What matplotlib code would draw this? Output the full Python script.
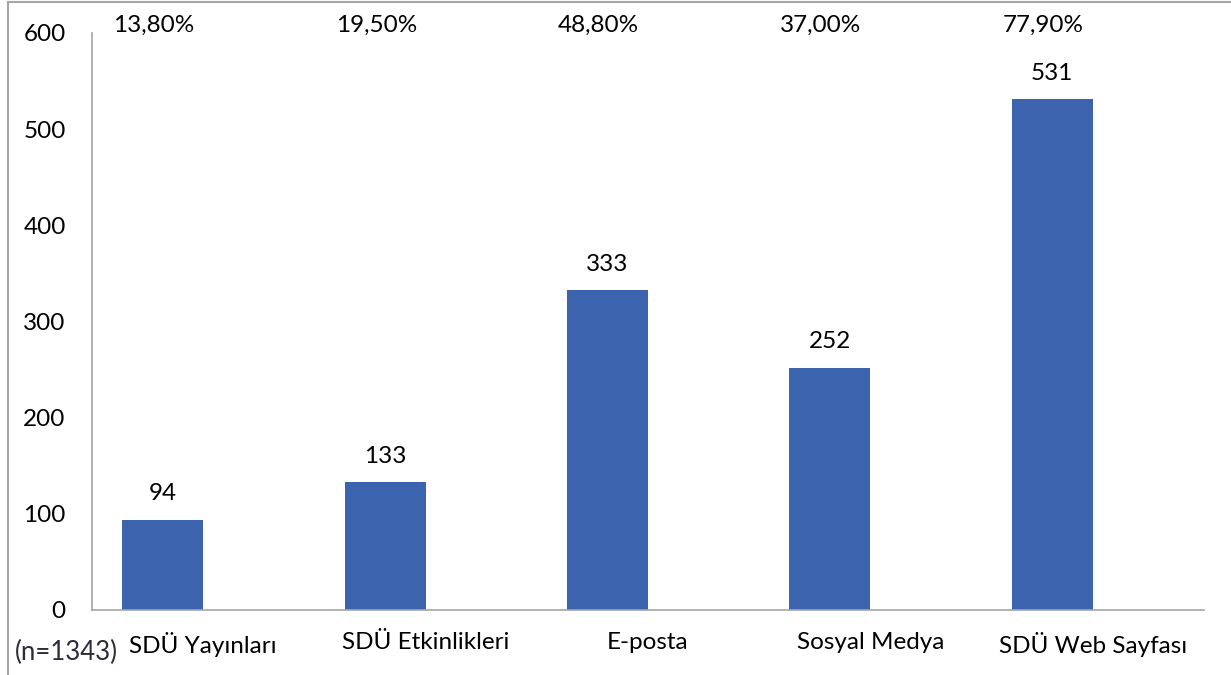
import matplotlib
matplotlib.use("Agg")
import matplotlib.pyplot as plt
import matplotlib.transforms as mtransforms
from matplotlib.lines import Line2D
import numpy as np

# ============================================================
# Data
# ============================================================
categories = ["SDÜ Yayınları", "SDÜ Etkinlikleri", "E-posta", "Sosyal Medya", "SDÜ Web Sayfası"]
counts = [94, 133, 333, 252, 531]
percents = ["13,80%", "19,50%", "48,80%", "37,00%", "77,90%"]
y_ticks = [0, 100, 200, 300, 400, 500, 600]
note = "(n=1343)"

plt.rcParams['font.family'] = ['Lato', 'DejaVu Sans']
FS = 17.5

fig = plt.figure(figsize=(12.31, 6.75), dpi=100)
ax = fig.add_axes([92 / 1231, 65 / 675, 1112 / 1231, 577 / 675])

x = np.arange(len(categories))
bar_w = 0.364
offset = -0.182
bars = ax.bar(x + offset, counts, width=bar_w, color="#3C64AE")

ax.set_xlim(-0.5, len(categories) - 0.5)
ax.set_ylim(0, 600)
ax.set_yticks(y_ticks)
ax.set_yticklabels([str(v) for v in y_ticks], fontsize=FS)
ax.set_xticks(x)
ax.set_xticklabels(categories, fontsize=FS)
ax.tick_params(axis="y", length=0, pad=19)
ax.tick_params(axis="x", length=0, pad=16)

for side in ["top", "right"]:
    ax.spines[side].set_visible(False)
ax.spines["left"].set_color("#A6A6A6")
ax.spines["bottom"].set_color("#A6A6A6")
ax.spines["left"].set_linewidth(1.2)
ax.spines["bottom"].set_linewidth(1.2)

# value labels above bars
for xi, v in zip(x, counts):
    ax.annotate(str(v), (xi + offset, v), xytext=(0, 18.5), textcoords="offset points",
                ha="center", va="center", fontsize=FS)

# percentage labels along the top
trans = mtransforms.blended_transform_factory(ax.transData, ax.transAxes)
for xi, p in zip(x, percents):
    ax.text(xi + offset - 0.04, 1.0139, p, transform=trans, ha="center", va="center",
            fontsize=FS, clip_on=False)

fig.text(15 / 1231, 1 - 652 / 675, note, ha="left", va="center", fontsize=18.5, color="#2B2B3A")

# outer frame (top and left edges visible)
fig.add_artist(Line2D([8 / 1231, 1], [1 - 2 / 675, 1 - 2 / 675], color="#A6A6A6", lw=1.5,
                      transform=fig.transFigure))
fig.add_artist(Line2D([8 / 1231, 8 / 1231], [0, 1 - 2 / 675], color="#A6A6A6", lw=1.5,
                      transform=fig.transFigure))

fig.savefig("out.png", dpi=100)
